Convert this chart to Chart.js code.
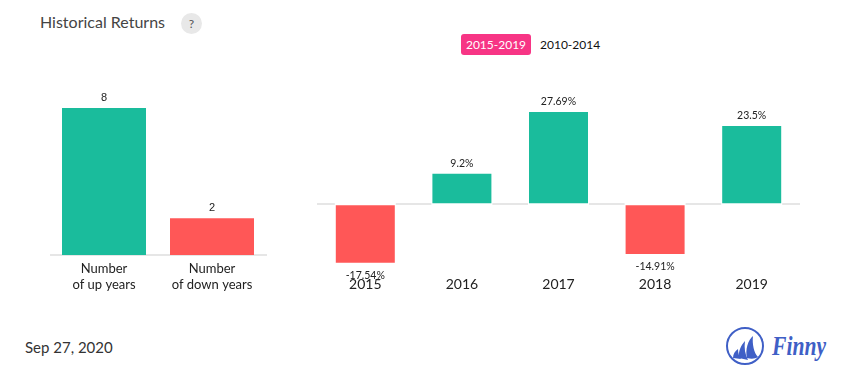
<!DOCTYPE html>
<html><head><meta charset="utf-8">
<script src="https://cdn.jsdelivr.net/npm/chart.js@4"></script>
<style>
html,body{margin:0;padding:0;background:#fff;width:855px;height:382px;overflow:hidden;font-family:Lato,sans-serif}
.a{position:absolute;white-space:nowrap}
canvas{position:absolute}
</style></head><body>
<div class="a" style="left:40px;top:12px;font-size:16px;line-height:20px;color:#444">Historical Returns</div>
<div class="a" style="left:181px;top:13px;width:21px;height:21px;border-radius:50%;background:#e8e8e8;color:#555;font-size:12px;line-height:21px;text-align:center">?</div>
<div class="a" style="left:461px;top:34px;width:70px;height:21px;border-radius:3px;background:#f73585;color:#fff;font-size:12px;line-height:21px;text-align:center">2015-2019</div>
<div class="a" style="left:540px;top:34px;height:21px;color:#111;font-size:12px;line-height:21px">2010-2014</div>
<div class="a" style="left:25px;top:337px;font-size:15px;line-height:20px;color:#333">Sep 27, 2020</div>
<div style="position:absolute;left:50px;top:80px;width:217px;height:220px"><canvas id="left"></canvas></div>
<div style="position:absolute;left:317px;top:81px;width:483px;height:220px"><canvas id="right"></canvas></div>
<svg class="a" style="left:720px;top:322px" width="120" height="50" viewBox="0 0 120 50">
<circle cx="25" cy="24" r="18" fill="none" stroke="#3f5fc6" stroke-width="2"/>
<path d="M13 36 C13 32 15 29 18 27 C18 31 19 34 21 37Z" fill="#3f5fc6"/>
<path d="M19 36 C18 30 21 23 25 19 C24 26 25 32 28 38Z" fill="#3f5fc6"/>
<path d="M27 36 C25 28 28 18 33 14 C32 22 34 31 38 35 C35 37 31 37 27 36Z" fill="#3f5fc6"/>
<text x="52" y="33" font-family="Liberation Serif" font-style="italic" font-weight="700" font-size="28" fill="#3f5fc6" textLength="54" lengthAdjust="spacingAndGlyphs">Finny</text>
</svg>
<script>
const countLabels = [["Number","of up years"],["Number","of down years"]];
const countValues = [8,2];
const years = ["2015","2016","2017","2018","2019"];
const returns = [-17.54,9.2,27.69,-14.91,23.5];
const returnLabels = ["-17.54%","9.2%","27.69%","-14.91%","23.5%"];
const UP="#1abc9c", DOWN="#ff5757";

function labelPlugin(texts,font,color,offUp,offDown){return{id:'vals',afterDatasetsDraw(c){
  const ctx=c.ctx,m=c.getDatasetMeta(0),vals=c.data.datasets[0].data;
  ctx.save();ctx.font=font;ctx.fillStyle=color;ctx.textAlign='center';ctx.textBaseline='middle';
  m.data.forEach((b,i)=>{const neg=vals[i]<0;ctx.fillText(texts[i],b.x,b.y+(neg?offDown:-offUp));});
  ctx.restore();
}}}
const gapPlugin={id:'gap',beforeDatasetsDraw(c){
  const ctx=c.ctx,z=c.scales.y.getPixelForValue(0);
  ctx.save();ctx.fillStyle='#fff';
  c.getDatasetMeta(0).data.forEach(b=>{ctx.fillRect(b.x-b.width/2-1,z-2,b.width+2,4);});
  ctx.restore();
}};

new Chart(document.getElementById('left'),{type:'bar',
 data:{labels:countLabels,datasets:[{data:countValues,backgroundColor:[UP,DOWN],borderWidth:0,barPercentage:1,categoryPercentage:84/108}]},
 options:{responsive:true,maintainAspectRatio:false,animation:false,
  layout:{padding:{right:1}},
  plugins:{legend:{display:false},tooltip:{enabled:false}},
  scales:{
   x:{afterFit(s){s.height=45},grid:{display:false},border:{color:'#e6e6e6',width:2},
      ticks:{color:'#222',font:{family:'Lato',size:13},padding:-2,maxRotation:0,autoSkip:false}},
   y:{display:false,min:0,max:9.52}
  }},
 plugins:[labelPlugin(countValues.map(String),"11px 'Liberation Sans'",'#222',10,11)]
});

new Chart(document.getElementById('right'),{type:'bar',
 data:{labels:years,datasets:[{data:returns,backgroundColor:returns.map(v=>v<0?DOWN:UP),borderWidth:0,barPercentage:1,categoryPercentage:59/96.6}]},
 options:{responsive:true,maintainAspectRatio:false,animation:false,
  layout:{padding:0},
  plugins:{legend:{display:false},tooltip:{enabled:false}},
  scales:{
   x:{afterFit(s){s.height=30},grid:{display:false},border:{display:false},
      ticks:{color:'#222',font:{family:'Lato',size:14},padding:-3,maxRotation:0,autoSkip:false}},
   y:{min:-20,max:37,afterFit(s){s.width=0},border:{display:false},
      grid:{drawTicks:false,lineWidth:2,color:c=>c.tick.value===0?'#e6e6e6':'rgba(0,0,0,0)'},
      ticks:{display:false,stepSize:1}}
  }},
 plugins:[gapPlugin,labelPlugin(returnLabels,"10.5px Lato",'#222',10,13)]
});
</script>
</body></html>
